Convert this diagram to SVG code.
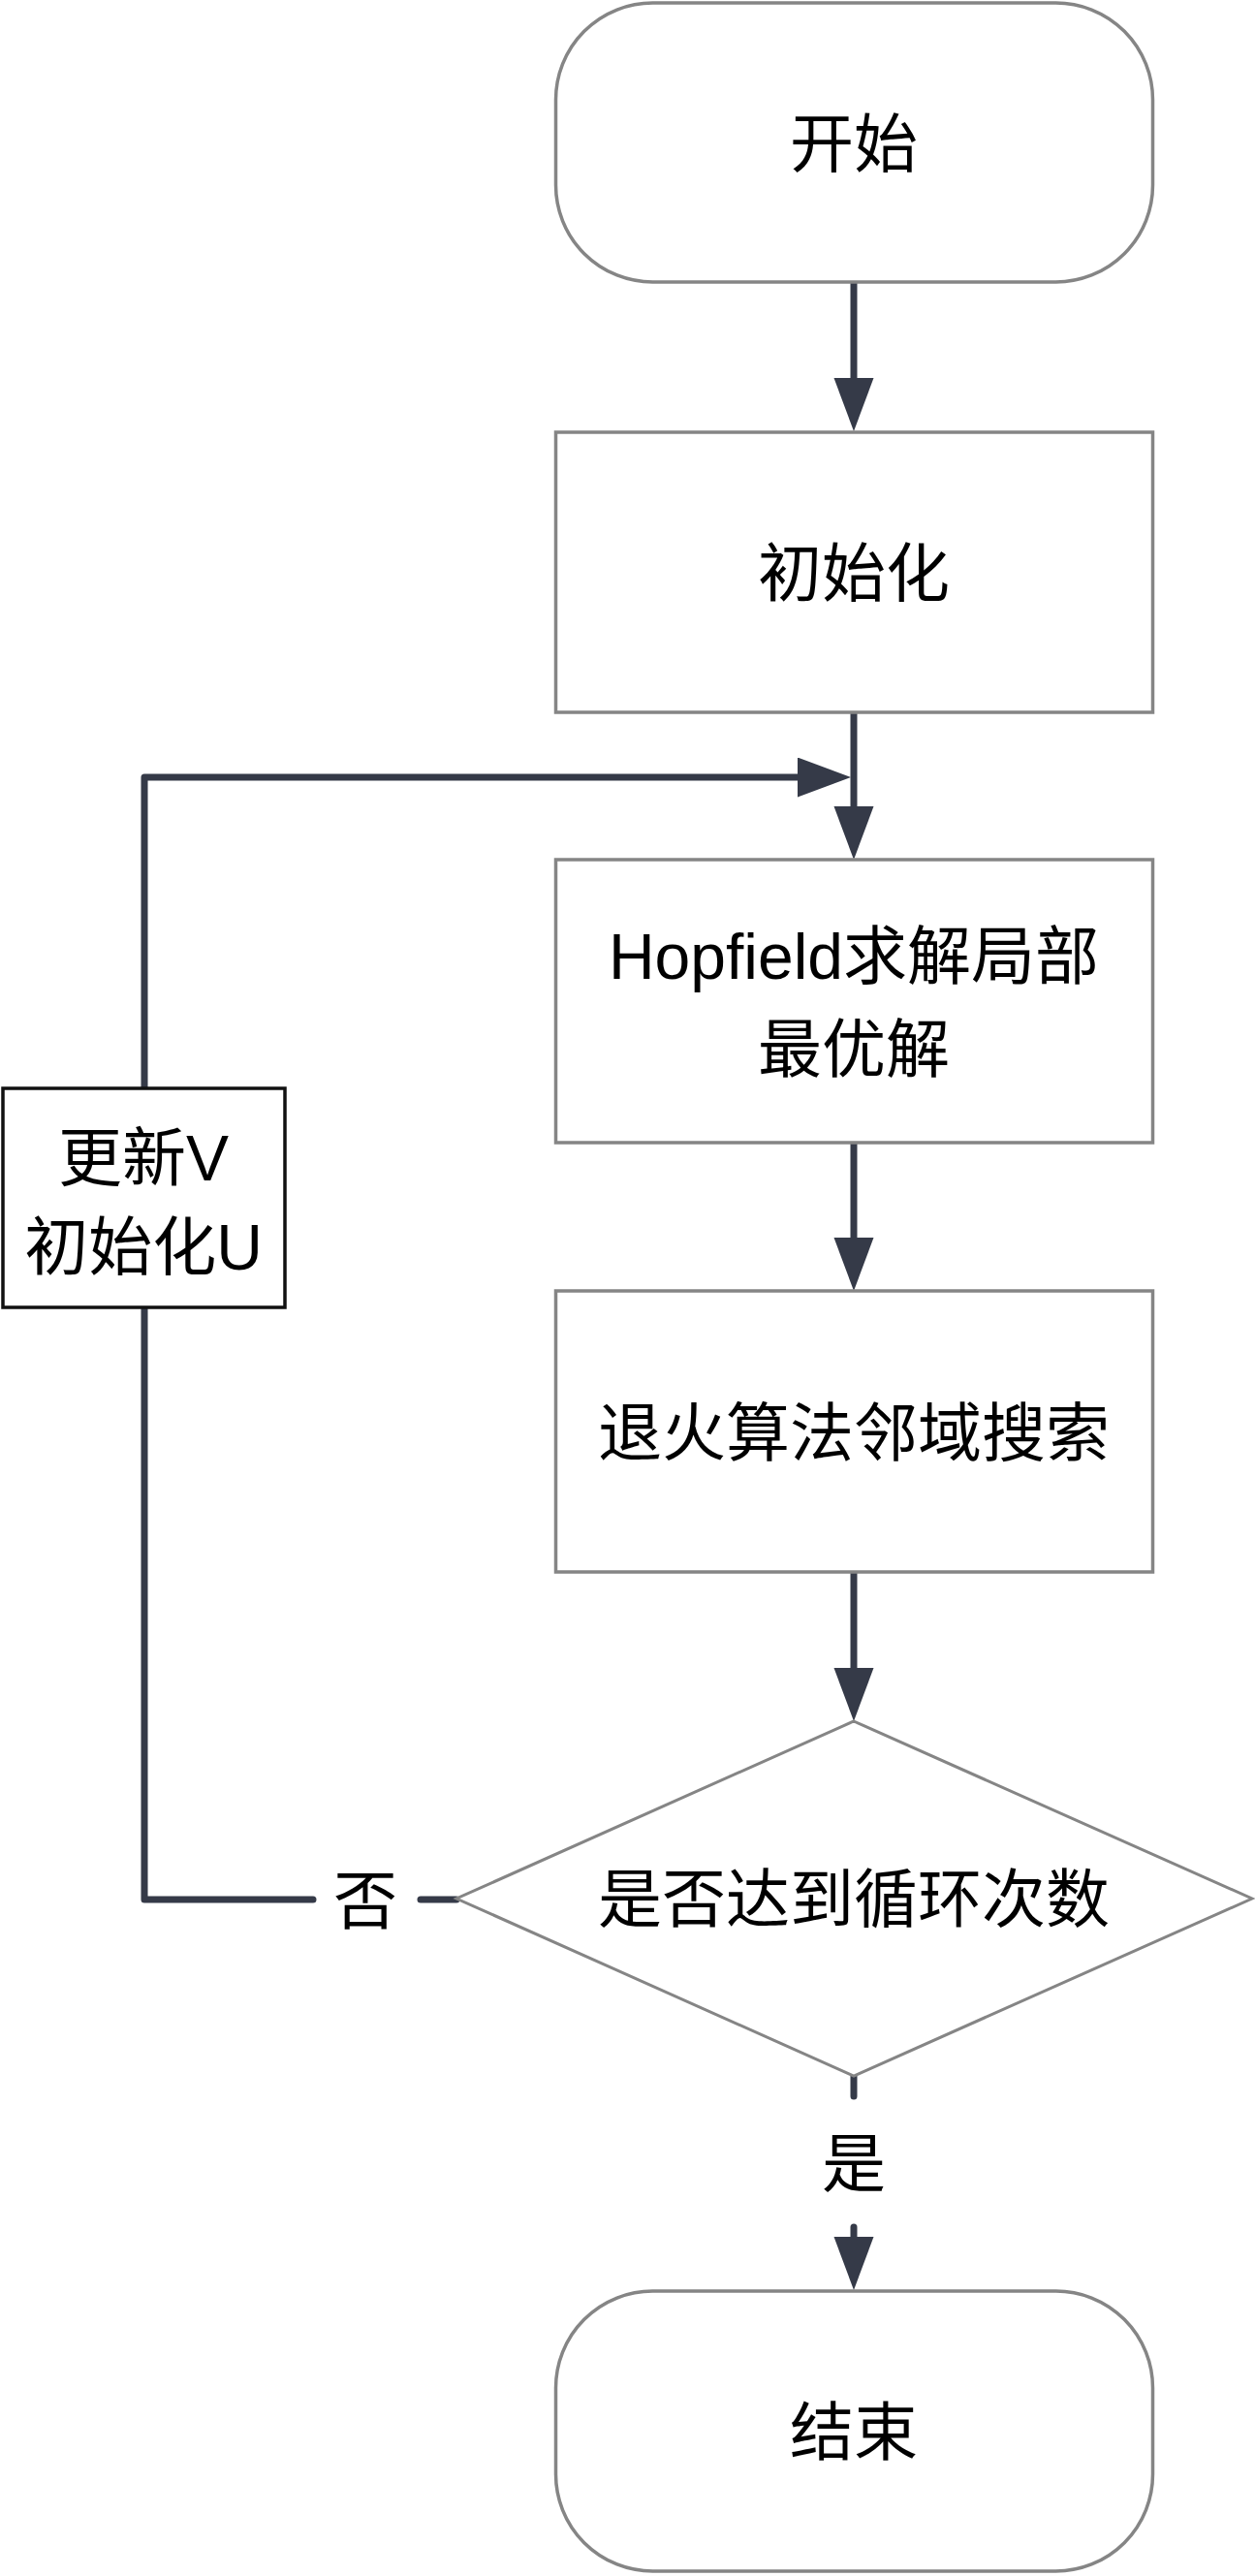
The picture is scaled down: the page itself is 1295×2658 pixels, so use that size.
<svg xmlns="http://www.w3.org/2000/svg" width="1295" height="2658" viewBox="0 0 1295 2658">
<style>
.node{fill:#ffffff;stroke:#858585;stroke-width:3.5}
.side{fill:#ffffff;stroke:#111111;stroke-width:3.5}
.lbl{font-family:'Liberation Sans','Noto Sans CJK SC',sans-serif;font-size:66px;fill:#000000;text-anchor:middle}
.conn{fill:none;stroke:#353a48;stroke-width:7;stroke-linecap:round;stroke-linejoin:round}
</style>
<defs>
<marker id="ah" markerUnits="userSpaceOnUse" markerWidth="56" markerHeight="42" refX="0" refY="20.5" orient="auto">
<path d="M0,0 L55,20.5 L0,41 Z" fill="#353a48"/>
</marker>
</defs>
<rect width="1295" height="2658" fill="#ffffff"/>
<g id="connectors">
<path class="conn" d="M881,291 L881,390" marker-end="url(#ah)"/>
<path class="conn" d="M881,735 L881,832" marker-end="url(#ah)"/>
<path class="conn" d="M881,1179 L881,1277" marker-end="url(#ah)"/>
<path class="conn" d="M881,1622 L881,1721" marker-end="url(#ah)"/>
<path class="conn" d="M881,2142 L881,2163"/>
<path class="conn" d="M881,2298 L881,2308" marker-end="url(#ah)"/>
<path class="conn" d="M471,1960 L434,1960"/>
<path class="conn" d="M323,1960 L149,1960 L149,802 L823,802" marker-end="url(#ah)"/>
<text class="lbl" x="377" y="1985">否</text>
<text class="lbl" x="881" y="2256">是</text>
</g>
<g id="start">
<rect class="node" x="573.5" y="3" width="616" height="288" rx="100" ry="100"/>
<text class="lbl" x="881" y="172">开始</text>
</g>
<g id="init">
<rect class="node" x="573.5" y="446" width="616" height="289"/>
<text class="lbl" x="881" y="615">初始化</text>
</g>
<g id="hopfield">
<rect class="node" x="573.5" y="887" width="616" height="292"/>
<text class="lbl" x="881" y="1010">Hopfield求解局部</text>
<text class="lbl" x="881" y="1106">最优解</text>
</g>
<g id="anneal">
<rect class="node" x="573.5" y="1332" width="616" height="290"/>
<text class="lbl" x="881" y="1502">退火算法邻域搜索</text>
</g>
<g id="decision">
<path class="node" d="M881,1776 L1292,1959 L881,2142 L471,1959 Z" style="stroke-width:3"/>
<text class="lbl" x="881" y="1983">是否达到循环次数</text>
</g>
<g id="update">
<rect class="side" x="3" y="1123" width="291" height="226"/>
<text class="lbl" x="148" y="1218">更新V</text>
<text class="lbl" x="148" y="1310">初始化U</text>
</g>
<g id="end">
<rect class="node" x="573.5" y="2364" width="616" height="289" rx="100" ry="100"/>
<text class="lbl" x="881" y="2533">结束</text>
</g>
</svg>
